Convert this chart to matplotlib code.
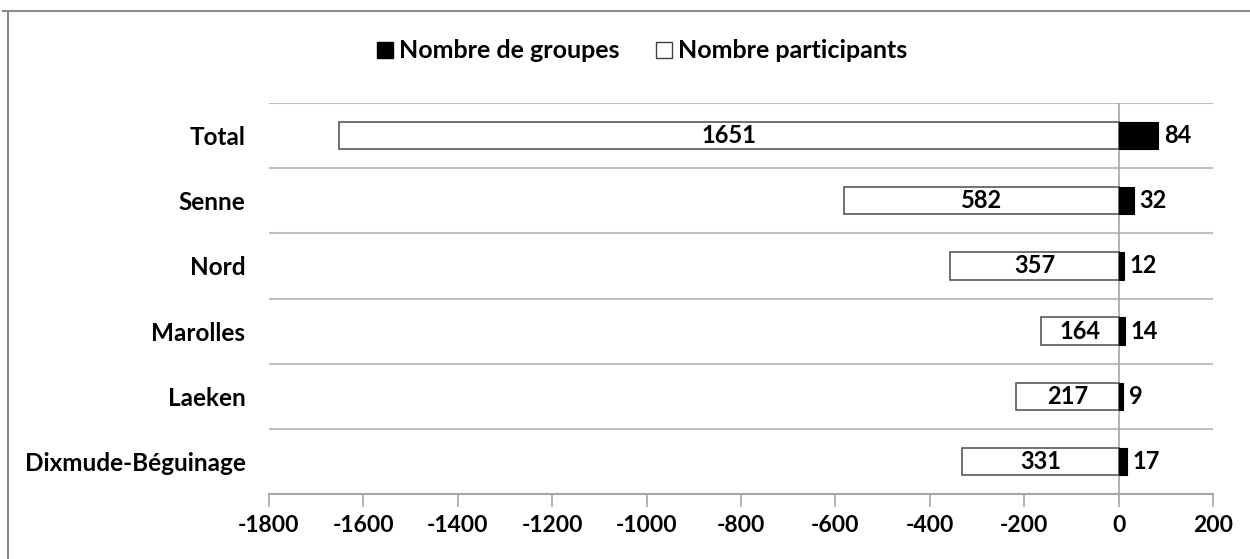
import matplotlib
matplotlib.use("Agg")
import matplotlib.pyplot as plt
from matplotlib.lines import Line2D
import numpy as np

categories = ["Total", "Senne", "Nord", "Marolles", "Laeken", "Dixmude-Béguinage"]
participants = [1651, 582, 357, 164, 217, 331]
groupes = [84, 32, 12, 14, 9, 17]
xticks = [-1800, -1600, -1400, -1200, -1000, -800, -600, -400, -200, 0, 200]

plt.rcParams['font.family'] = ['Lato', 'DejaVu Sans']
plt.rcParams['font.weight'] = 'bold'

fig = plt.figure(figsize=(12.5, 5.59), dpi=100)
ax = fig.add_axes([269/1250, 1-494/559, (1213-269)/1250, (494-103)/559])

n = len(categories)
y = np.arange(n)[::-1]  # Total at top
h = 0.42
ax.barh(y, [-p for p in participants], height=h, color='white', edgecolor='#595959', linewidth=1.2, zorder=3)
ax.barh(y, groupes, height=h, color='black', edgecolor='black', linewidth=0.8, zorder=3)

for yi, p, g in zip(y, participants, groupes):
    ax.text(-p/2, yi, str(p), ha='center', va='center', fontsize=17, fontweight='bold', zorder=4)
    ax.text(g + 12, yi, str(g), ha='left', va='center', fontsize=17, fontweight='bold', zorder=4)

ax.set_xlim(-1800, 200)
ax.set_ylim(-0.5, n - 0.5)
ax.set_xticks(xticks)
ax.set_xticklabels([str(t) for t in xticks], fontsize=16.5, fontweight='bold')
ax.set_yticks(y)
ax.set_yticklabels(categories, fontsize=17.5, fontweight='bold')
ax.tick_params(axis='y', length=0, pad=17)
ax.tick_params(axis='x', direction='out', length=9, width=1.2, color='#a6a6a6', pad=6)

for b in np.arange(0.5, n - 0.5 + 1, 1.0):
    ax.axhline(b, color='#bfbfbf', linewidth=1.5, zorder=1)
ax.axvline(0, color='#a6a6a6', linewidth=1.2, zorder=2)

for s in ['top', 'right', 'left']:
    ax.spines[s].set_visible(False)
ax.spines['bottom'].set_color('#a6a6a6')
ax.spines['bottom'].set_linewidth(1.5)

handles = [
    Line2D([], [], marker='s', linestyle='none', markersize=12, markerfacecolor='black', markeredgecolor='black'),
    Line2D([], [], marker='s', linestyle='none', markersize=11, markerfacecolor='white', markeredgecolor='#404040'),
]
fig.legend(handles, ["Nombre de groupes", "Nombre participants"], loc='center', bbox_to_anchor=(0.512, 1-51/559),
           ncol=2, frameon=False, handletextpad=0.05, columnspacing=1.3, handlelength=1.0,
           prop={'weight': 'bold', 'size': 18})

# outer chart-area frame
fig.add_artist(Line2D([3/1250, 1], [1-11/559, 1-11/559], transform=fig.transFigure, color='#8c8c8c', linewidth=1.5))
fig.add_artist(Line2D([8/1250, 8/1250], [0, 1-11/559], transform=fig.transFigure, color='#8c8c8c', linewidth=1.5))

fig.savefig("out.png", dpi=100)
